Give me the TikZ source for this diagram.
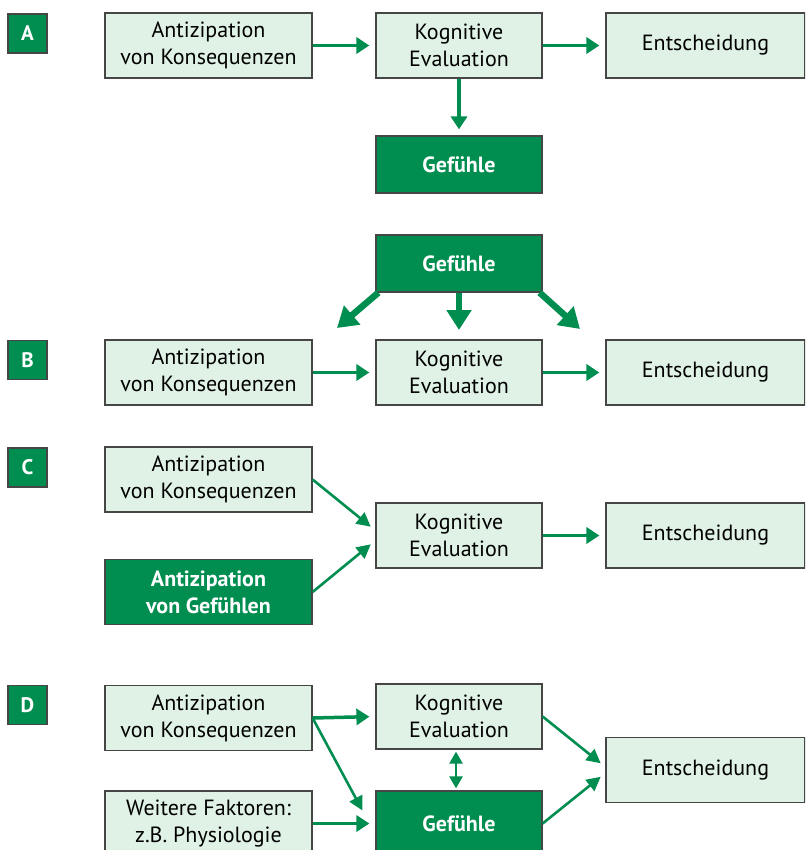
\documentclass[tikz,border=0pt]{standalone}
\usepackage{fontspec}
\setmainfont{PT Sans}
\usetikzlibrary{arrows.meta}
\definecolor{darkgreen}{RGB}{0,142,80}
\definecolor{palegreen}{RGB}{224,242,230}
\definecolor{boxline}{RGB}{70,70,70}

\tikzset{
  lightbox/.style={draw=boxline, line width=1.2pt, fill=palegreen, minimum width=207pt,
    minimum height=65pt, inner sep=0pt, align=center, font=\fontsize{22}{27}\selectfont},
  midbox/.style={lightbox, minimum width=166pt},
  endbox/.style={lightbox, minimum width=199pt},
  darkbox/.style={lightbox, fill=darkgreen, text=white, font=\bfseries\fontsize{22}{27}\selectfont},
  tag/.style={draw=boxline, line width=1.2pt, fill=darkgreen, text=white, minimum size=39pt,
    inner sep=0pt, font=\bfseries\fontsize{21}{21}\selectfont},
  flow/.style={draw=darkgreen, line width=3.5pt, -{Triangle[width=16pt,length=13pt]}, shorten >=6pt},
  slant/.style={flow, line width=2.6pt, -{Triangle[width=14pt,length=14pt]}},
  bigflow/.style={draw=darkgreen, line width=6.5pt, -{Triangle[width=24pt,length=20pt]}},
}

\begin{document}
\begin{tikzpicture}[x=1pt, y=-1pt]
\clip (0,0) rectangle (805,850);
\useasboundingbox (0,0) rectangle (805,850);

% A
\node[tag] (tagA) at (27.5,33.5) {A};
\node[lightbox] (antA) at (208.5,45.5) {Antizipation\\von Konsequenzen};
\node[midbox] (kogA) at (459,45.5) {Kognitive\\Evaluation};
\node[endbox] (entA) at (705.5,45.5) {Entscheidung};
\node[darkbox, minimum width=166pt, minimum height=57pt] (gefA) at (459,164.5) {Gefühle};
\draw[flow] (antA.east) -- (kogA.west);
\draw[flow] (kogA.east) -- (entA.west);
\draw[flow] (kogA.south) -- (gefA.north);

% B
\node[darkbox, minimum width=166pt, minimum height=57pt] (gefB) at (459,263.5) {Gefühle};
\node[tag] (tagB) at (27.5,360) {B};
\node[lightbox] (antB) at (208.5,372.5) {Antizipation\\von Konsequenzen};
\node[midbox] (kogB) at (459,372.5) {Kognitive\\Evaluation};
\node[endbox] (entB) at (705.5,372.5) {Entscheidung};
\coordinate (toAnt) at (337,328);
\coordinate (toKog) at (459,330);
\coordinate (toEnt) at (580,329);
\draw[bigflow] ([xshift=3pt]gefB.south west) -- (toAnt);
\draw[bigflow] (gefB.south) -- (toKog);
\draw[bigflow] ([xshift=-3pt]gefB.south east) -- (toEnt);
\draw[flow] (antB.east) -- (kogB.west);
\draw[flow] (kogB.east) -- (entB.west);

% C
\node[tag] (tagC) at (27.5,467.5) {C};
\node[lightbox] (antC) at (208.5,479.5) {Antizipation\\von Konsequenzen};
\node[darkbox] (antgefC) at (208.5,592) {Antizipation\\von Gefühlen};
\node[midbox] (kogC) at (459,535.5) {Kognitive\\Evaluation};
\node[endbox] (entC) at (705.5,535.5) {Entscheidung};
\draw[slant] (antC.east) -- ([yshift=5pt]kogC.west);
\draw[slant] (antgefC.east) -- ([yshift=-5pt]kogC.west);
\draw[flow] (kogC.east) -- (entC.west);

% D
\node[tag] (tagD) at (27.5,705) {D};
\node[lightbox] (antD) at (208.5,718) {Antizipation\\von Konsequenzen};
\node[midbox] (kogD) at (459,716.5) {Kognitive\\Evaluation};
\node[endbox] (entD) at (705.5,770) {Entscheidung};
\node[lightbox] (weitD) at (208.5,823.5) {Weitere Faktoren:\\z.B. Physiologie};
\node[darkbox, minimum width=166pt] (gefD) at (459,823.5) {Gefühle};
\draw[flow] (antD.east) -- (kogD.west);
\draw[slant, shorten >=0pt] (antD.east) -- ([xshift=-13pt,yshift=13pt]gefD.west);
\draw[flow] (weitD.east) -- (gefD.west);
\draw[slant, line width=2.4pt, {Triangle[width=13pt,length=12pt]}-{Triangle[width=13pt,length=12pt]},
  shorten <=2pt, shorten >=2pt] ([xshift=-3pt]kogD.south) -- ([xshift=-3pt]gefD.north);
\draw[slant] (kogD.east) -- ([yshift=3pt]entD.west);
\draw[slant] (gefD.east) -- ([yshift=-3pt]entD.west);
\end{tikzpicture}
\end{document}
